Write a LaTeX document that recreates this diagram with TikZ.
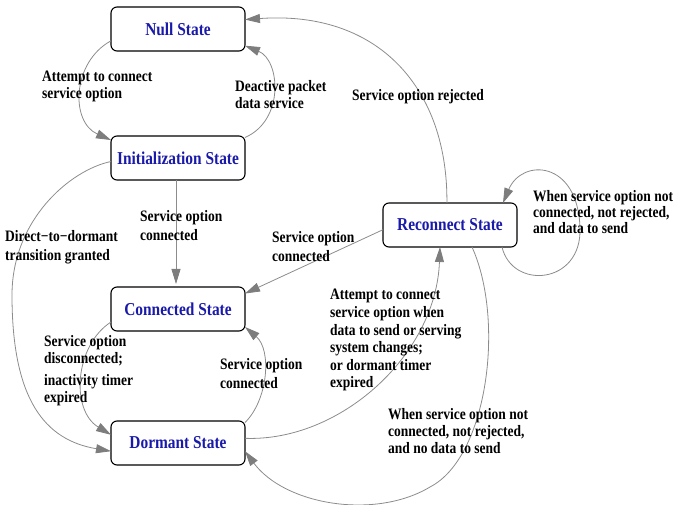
\documentclass[tikz,border=0pt]{standalone}
\usepackage{fontspec}
\setmainfont{Liberation Serif}
\usetikzlibrary{arrows.meta}
\definecolor{edgegray}{RGB}{140,140,140}
\definecolor{tipgray}{RGB}{125,125,125}
\definecolor{stateblue}{RGB}{25,25,170}
\newcommand{\vtxt}[1]{\scalebox{1}[1.18]{\begin{tabular}[t]{@{}l@{}}#1\end{tabular}}}
\begin{document}
\begin{tikzpicture}[x=1pt,y=-1pt,
  state/.style={draw=black, line width=1.1pt, rounded corners=6pt, minimum width=134pt,
    minimum height=44pt, inner sep=0pt, outer sep=0pt, text=stateblue,
    font=\bfseries\fontsize{15.4}{18}\selectfont},
  trans/.style={draw=edgegray, line width=0.8pt,
    -{Triangle[length=15pt,width=9pt,color=tipgray]}},
  lbl/.style={anchor=base west, inner sep=0pt,
    font=\bfseries\fontsize{13.5}{14.4}\selectfont},
  sp15/.style={font=\bfseries\fontsize{13.5}{12.7}\selectfont},
  sp18/.style={font=\bfseries\fontsize{13.5}{15.3}\selectfont},
  sp19/.style={font=\bfseries\fontsize{13.5}{16.1}\selectfont},
  sp175/.style={font=\bfseries\fontsize{13.5}{14.9}\selectfont},
]
\useasboundingbox (0,0) rectangle (673,505);

\node[state] (null) at (178,29) {\scalebox{1}[1.18]{Null State}};
\node[state] (init) at (178,158) {\scalebox{1}[1.18]{Initialization State}};
\node[state] (conn) at (178,309) {\scalebox{1}[1.18]{Connected State}};
\node[state] (dorm) at (178,443) {\scalebox{1}[1.18]{Dormant State}};
\node[state] (rec) at (450,225) {\scalebox{1}[1.18]{Reconnect State}};

\draw[trans] (null.190) .. controls (72,62) and (70,122) .. (init.165);
\draw[trans] (init.17) .. controls (285,120) and (280,60) .. (null.346);
\draw[trans, shorten >=3pt] ([xshift=-2pt]init.south) -- ([xshift=-2pt]conn.north);
\draw[trans] (init.183) .. controls (70,170) and (12,220) .. (12,295)
  .. controls (12,400) and (45,440) .. (dorm.187);
\draw[trans] (rec.184) -- (conn.13);
\draw[trans] (rec.98) .. controls (448,90) and (380,10) .. (null.8);
\draw[trans] ([xshift=-15pt]rec.south east) .. controls (512,290) and (582,285) .. (580,228)
  .. controls (578,160) and (522,158) .. ([xshift=-14pt]rec.north east);
\draw[trans] ([xshift=22pt]rec.south) .. controls (505,320) and (488,457) .. (430,487)
  .. controls (375,520) and (285,505) .. (dorm.353);
\draw[trans] (dorm.4) .. controls (340,442) and (436,355) .. ([xshift=-10pt]rec.south);
\draw[trans] (conn.191) .. controls (75,345) and (70,410) .. (dorm.173);
\draw[trans] (dorm.17) .. controls (268,400) and (272,350) .. (conn.345);

\node[lbl] (l1) at (42,82) {\vtxt{Attempt to connect\\service option}};
\node[lbl] (l2) at (235,92) {\vtxt{Deactive packet\\data service}};
\node[lbl,sp19] (l3) at (140,222) {\vtxt{Service option\\connected}};
\node[lbl,sp19] (l4) at (5,242) {\vtxt{Direct−to−dormant\\transition granted}};
\node[lbl,sp19] (l5) at (272,243) {\vtxt{Service option\\connected}};
\node[lbl] (l6) at (352,101) {\vtxt{Service option rejected}};
\node[lbl,sp15] (l7) at (533,202) {\vtxt{When service option not\\connected, not rejected,\\and data to send}};
\node[lbl,sp175] (l8) at (330,300) {\vtxt{Attempt to connect\\service option when\\data to send or serving\\system changes;\\or dormant timer\\expired}};
\node[lbl] (l9) at (388,420) {\vtxt{When service option not\\connected, not rejected,\\and no data to send}};
\node[lbl] (l10) at (44,347) {\vtxt{Service option\\disconnected;}};
\node[lbl] (l11) at (44,386) {\vtxt{inactivity timer\\expired}};
\node[lbl,sp18] (l12) at (220,370) {\vtxt{Service option\\connected}};
\end{tikzpicture}
\end{document}
